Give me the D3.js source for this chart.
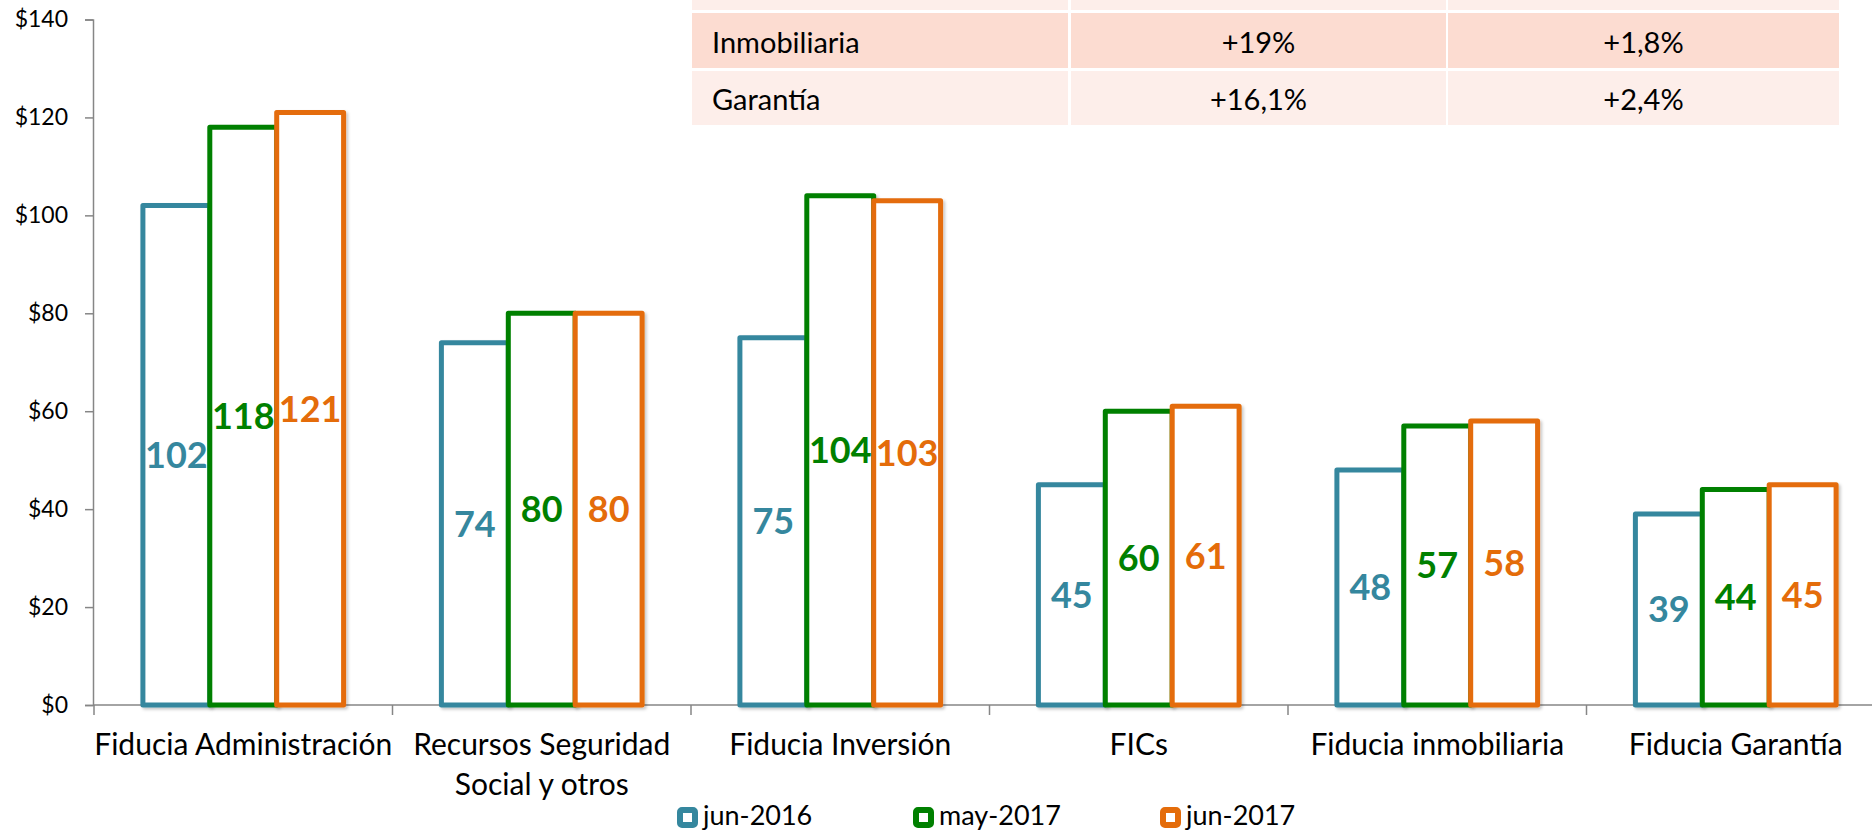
<!DOCTYPE html>
<html>
<head>
<meta charset="utf-8">
<script src="https://cdn.jsdelivr.net/npm/d3@7"></script>
<style>
  html, body { margin: 0; padding: 0; background: #fff; }
  svg { display: block; font-family: Lato, "Open Sans", sans-serif; }
</style>
</head>
<body>
<svg id="chart" width="1872" height="830"></svg>
<script>
// data
const categories = [
  ['Fiducia Administración'],
  ['Recursos Seguridad', 'Social y otros'],
  ['Fiducia Inversión'],
  ['FICs'],
  ['Fiducia inmobiliaria'],
  ['Fiducia Garantía']
];
const seriesNames = ['jun-2016', 'may-2017', 'jun-2017'];
const seriesColors = ['#35879E', '#008000', '#E46C0A'];
const jun2016 = [102, 74, 75, 45, 48, 39];
const may2017 = [118, 80, 104, 60, 57, 44];
const jun2017 = [121, 80, 103, 61, 58, 45];
const yTicks = [0, 20, 40, 60, 80, 100, 120, 140];

// small table cut off at the top of the slide
const tableLabels = ['', 'Inmobiliaria', 'Garantía'];
const tableCol2 = ['', '+19%', '+16,1%'];
const tableCol3 = ['', '+1,8%', '+2,4%'];

const series = [jun2016, may2017, jun2017];

const svg = d3.select('#chart');

const defs = svg.append('defs');
const shadow = defs.append('filter').attr('id', 'shadow')
  .attr('x', '-20%').attr('y', '-20%').attr('width', '140%').attr('height', '140%');
shadow.append('feDropShadow')
  .attr('dx', 2).attr('dy', 2).attr('stdDeviation', 1.5)
  .attr('flood-color', '#000').attr('flood-opacity', 0.22);

// scales
const x0 = d3.scaleBand()
  .domain(d3.range(categories.length))
  .range([94, 94 + 298.5 * categories.length])
  .paddingInner(0).paddingOuter(0);

const x1 = d3.scaleBand()
  .domain(d3.range(seriesNames.length))
  .range([0, x0.bandwidth()])
  .paddingInner(0).paddingOuter(0.731);

const y = d3.scaleLinear().domain([0, 140]).range([705, 19.5]);

// table
const tRows = [[-44, 10], [13, 68], [71, 125]];
const tCols = [[692, 1068], [1071, 1446], [1448, 1839]];
const rowFill = ['#FDEEEA', '#FCDCD1', '#FDEEEA'];
const table = svg.append('g').attr('class', 'table');
tableLabels.forEach((lab, i) => {
  const [r0, r1] = tRows[i];
  tCols.forEach(([c0, c1], j) => {
    table.append('rect')
      .attr('x', c0).attr('y', r0)
      .attr('width', c1 - c0).attr('height', r1 - r0)
      .attr('fill', rowFill[i]);
  });
  const base = r1 - 15;
  table.append('text').attr('x', 712).attr('y', base)
    .attr('font-size', 29).attr('fill', '#000').text(lab);
  table.append('text').attr('x', (tCols[1][0] + tCols[1][1]) / 2).attr('y', base)
    .attr('text-anchor', 'middle').attr('font-size', 29).attr('fill', '#000').text(tableCol2[i]);
  table.append('text').attr('x', (tCols[2][0] + tCols[2][1]) / 2).attr('y', base)
    .attr('text-anchor', 'middle').attr('font-size', 29).attr('fill', '#000').text(tableCol3[i]);
});

// y axis
const yAxis = svg.append('g')
  .attr('transform', 'translate(93,0)')
  .call(d3.axisLeft(y).tickValues(yTicks).tickSize(8).tickPadding(17).tickFormat(d => '$' + d));
yAxis.select('.domain').attr('stroke', '#868686').attr('stroke-width', 1.5);
yAxis.selectAll('.tick line').attr('stroke', '#868686').attr('stroke-width', 1.5);
yAxis.selectAll('.tick text')
  .attr('font-size', 23).attr('font-family', 'Lato, sans-serif').attr('fill', '#000');

// x axis line and category ticks
const xAxis = svg.append('g');
xAxis.append('line')
  .attr('x1', 93).attr('x2', 1872).attr('y1', y(0)).attr('y2', y(0))
  .attr('stroke', '#868686').attr('stroke-width', 1.5);
xAxis.selectAll('.ctick')
  .data(d3.range(categories.length + 1))
  .join('line')
  .attr('class', 'ctick')
  .attr('x1', d => x0.step() * d + x0.range()[0])
  .attr('x2', d => x0.step() * d + x0.range()[0])
  .attr('y1', y(0)).attr('y2', y(0) + 10)
  .attr('stroke', '#868686').attr('stroke-width', 1.5);

// bars, one series after another so later ones sit on top
series.forEach((vals, s) => {
  const g = svg.append('g').attr('filter', 'url(#shadow)');
  g.selectAll('rect')
    .data(vals)
    .join('rect')
    .attr('x', (d, i) => x0(i) + x1(s))
    .attr('y', d => y(d))
    .attr('width', x1.bandwidth())
    .attr('height', d => y(0) - y(d))
    .attr('fill', '#fff')
    .attr('stroke', seriesColors[s])
    .attr('stroke-width', 5)
    .attr('stroke-linejoin', 'round');
});

// data labels
series.forEach((vals, s) => {
  svg.append('g').selectAll('text')
    .data(vals)
    .join('text')
    .attr('x', (d, i) => x0(i) + x1(s) + x1.bandwidth() / 2)
    .attr('y', d => (y(d) + y(0)) / 2)
    .attr('dy', '0.36em')
    .attr('text-anchor', 'middle')
    .attr('font-size', 36)
    .attr('font-weight', 'bold')
    .attr('fill', seriesColors[s])
    .text(d => Math.round(d));
});

// category labels
const catLabels = svg.append('g');
categories.forEach((lines, i) => {
  const t = catLabels.append('text')
    .attr('x', x0(i) + x0.bandwidth() / 2)
    .attr('y', 755)
    .attr('text-anchor', 'middle')
    .attr('font-size', 30)
    .attr('fill', '#000');
  lines.forEach((ln, k) => {
    t.append('tspan')
      .attr('x', x0(i) + x0.bandwidth() / 2)
      .attr('dy', k === 0 ? 0 : 40)
      .text(ln);
  });
});

// legend
const legendX = [677, 913, 1160];
const legend = svg.append('g');
seriesNames.forEach((name, s) => {
  legend.append('rect')
    .attr('x', legendX[s] + 3).attr('y', 810)
    .attr('width', 15).attr('height', 15)
    .attr('rx', 2)
    .attr('fill', '#fff')
    .attr('stroke', seriesColors[s])
    .attr('stroke-width', 6);
  legend.append('text')
    .attr('x', legendX[s] + 26).attr('y', 825)
    .attr('font-size', 27)
    .attr('fill', '#000')
    .text(name);
});
</script>
</body>
</html>
